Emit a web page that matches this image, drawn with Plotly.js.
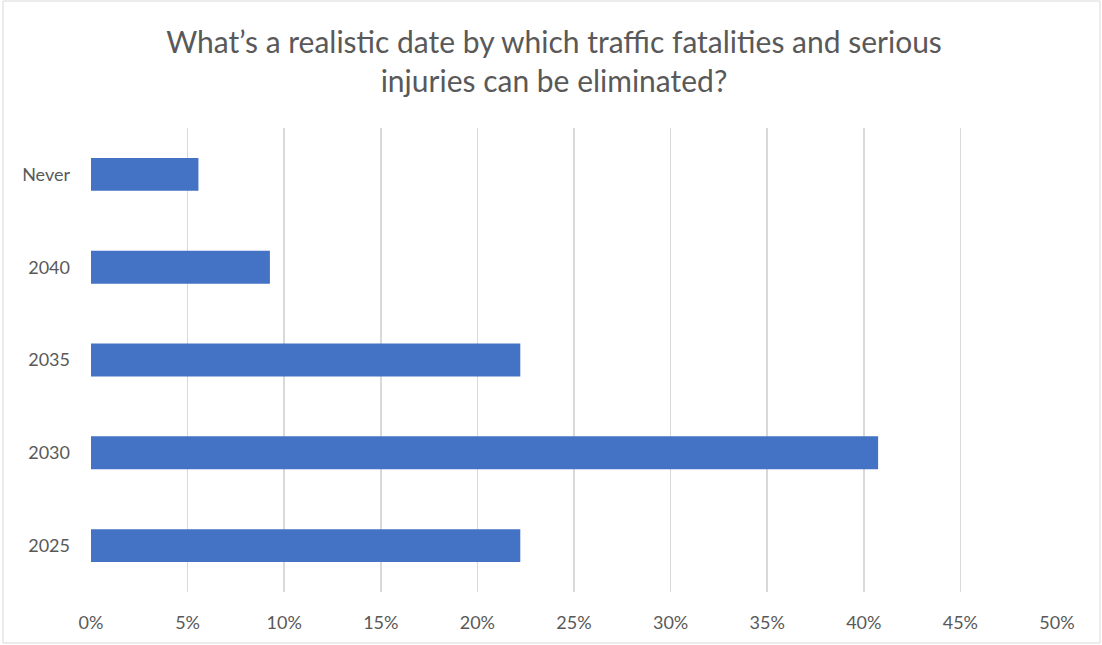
<!DOCTYPE html>
<html>
<head>
<meta charset="utf-8">
<script src="https://cdn.plot.ly/plotly-3.0.1.min.js"></script>
<style>html,body{margin:0;padding:0;background:#fff;}#chart{width:1102px;height:645px;}</style>
</head>
<body>
<div id="chart"></div>
<script>
var categories = ["2025", "2030", "2035", "2040", "Never"];
var shares = [0.2222, 0.4074, 0.2222, 0.0926, 0.0556];
var xTickValues = [0, 0.05, 0.10, 0.15, 0.20, 0.25, 0.30, 0.35, 0.40, 0.45, 0.50];
var xTickLabels = ["0%", "5%", "10%", "15%", "20%", "25%", "30%", "35%", "40%", "45%", "50%"];
var titleText = "What’s a realistic date by which traffic fatalities and serious<br>injuries can be eliminated?";

var trace = {
  type: "bar",
  orientation: "h",
  y: categories,
  x: shares,
  marker: {color: "#4472C4", line: {width: 0}},
  hoverinfo: "x+y"
};

var fontFam = "Lato, 'Open Sans', sans-serif";
var layout = {
  width: 1102, height: 645,
  margin: {l: 91, r: 45, t: 128, b: 53},
  paper_bgcolor: "#ffffff",
  plot_bgcolor: "#ffffff",
  bargap: 0.645,
  showlegend: false,
  title: {
    text: titleText,
    font: {family: fontFam, size: 30, color: "#595959"},
    x: 554 / 1102, xref: "container", xanchor: "center",
    y: 1 - 53 / 645, yref: "container", yanchor: "middle"
  },
  xaxis: {
    range: [0, 0.5],
    tickvals: xTickValues,
    ticktext: xTickLabels,
    showgrid: true, gridcolor: "#d9d9d9", gridwidth: 1.5,
    zeroline: false, showline: false,
    ticks: "", ticklabelstandoff: 18,
    tickfont: {family: fontFam, size: 18, color: "#595959"}
  },
  yaxis: {
    type: "category",
    categoryorder: "array",
    categoryarray: categories,
    range: [-0.5, 4.5],
    showgrid: false, zeroline: false, showline: false,
    ticks: "", ticklabelstandoff: 20,
    tickfont: {family: fontFam, size: 18, color: "#595959"}
  },
  shapes: [{
    type: "rect", xref: "paper", yref: "paper",
    x0: (3 - 91) / 966, x1: (1100 - 91) / 966,
    y0: (592 - 643) / 464, y1: (592 - 1) / 464,
    line: {color: "#d9d9d9", width: 1}, fillcolor: "rgba(0,0,0,0)", layer: "below"
  }]
};

Plotly.newPlot("chart", [trace], layout, {displayModeBar: false, staticPlot: true});
</script>
</body>
</html>
